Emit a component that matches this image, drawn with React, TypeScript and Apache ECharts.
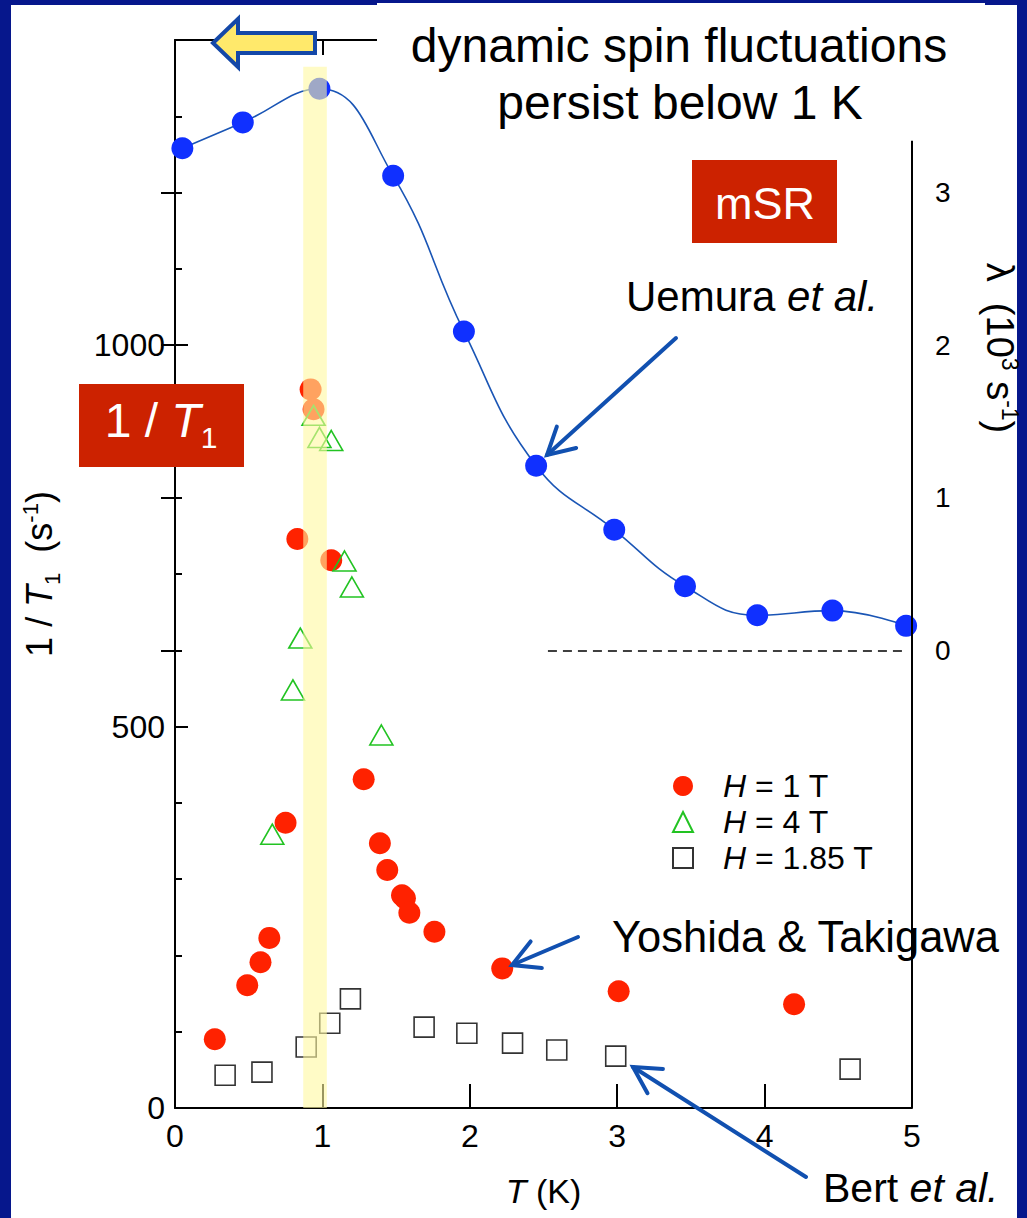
import React, { useEffect, useRef } from 'react';
import * as echarts from 'echarts';

const FONT = '"Liberation Sans", Arial, Helvetica, sans-serif';

// ---- data ----
const X_TICKS = [0, 1, 2, 3, 4, 5];
const LEFT_LABELS = [0, 500, 1000];
const RIGHT_LABELS = [0, 1, 2, 3];

// H = 1 T (1/T1, s^-1)
const RED_T = [0.27, 0.49, 0.58, 0.64, 0.75, 0.83, 0.92, 0.94, 1.06, 1.28, 1.39, 1.44, 1.54, 1.56, 1.59, 1.76, 2.22, 3.01, 4.2];
const RED_V = [90, 161, 191, 223, 374, 746, 942, 916, 718, 431, 347, 312, 279, 275, 256, 231, 183, 153, 136];

// H = 4 T
const GREEN_T = [0.66, 0.8, 0.85, 0.94, 0.98, 1.06, 1.15, 1.2, 1.4];
const GREEN_V = [359, 548, 616, 908, 879, 875, 717, 683, 489];

// H = 1.85 T
const SQ_T = [0.34, 0.59, 0.89, 1.05, 1.19, 1.69, 1.98, 2.29, 2.59, 2.99, 4.58];
const SQ_V = [43, 47, 80, 111, 143, 106, 98, 85, 76, 68, 51];

// muSR lambda (10^3 s^-1)
const MU_T = [0.05, 0.46, 0.98, 1.48, 1.96, 2.45, 2.98, 3.46, 3.95, 4.46, 4.96];
const MU_L = [3.29, 3.46, 3.68, 3.11, 2.09, 1.21, 0.79, 0.42, 0.23, 0.26, 0.16];

const ZERO_LINE_T = [2.53, 4.95];
const RIGHT_AXIS_TOP = 3.34;
const BAND = [0.87, 1.03, 1365];

const zip = (a: number[], b: number[]) => a.map((v, i) => [v, b[i]]);

function arrow(x1: number, y1: number, x2: number, y2: number, color: string, w: number) {
  const a = Math.atan2(y2 - y1, x2 - x1);
  const L = 30;
  const th = 0.5;
  const p1 = [x2 - L * Math.cos(a - th), y2 - L * Math.sin(a - th)];
  const p2 = [x2 - L * Math.cos(a + th), y2 - L * Math.sin(a + th)];
  return [
    { type: 'line', z: 100, shape: { x1, y1, x2, y2 }, style: { stroke: color, lineWidth: w, lineCap: 'round' } },
    { type: 'polyline', z: 100, shape: { points: [p1, [x2, y2], p2] }, style: { stroke: color, lineWidth: w, fill: null, lineCap: 'round', lineJoin: 'miter' } },
  ];
}

const BLUE_ARROW = '#1150b0';

export default function App() {
  const ref = useRef<HTMLDivElement>(null);
  useEffect(() => {
    document.body.style.margin = '0';
    const chart = echarts.init(ref.current!, null, { renderer: 'svg' });
    const richBase = (size: number) => ({
      n: { fontSize: size, fontFamily: FONT, color: '#000', verticalAlign: 'bottom', lineHeight: size, padding: [0, 0, 6, 0] },
      i: { fontSize: size, fontFamily: FONT, color: '#000', fontStyle: 'italic', verticalAlign: 'bottom', lineHeight: size, padding: [0, 0, 6, 0] },
      sub: { fontSize: Math.round(size * 0.62), fontFamily: FONT, color: '#000', verticalAlign: 'bottom', lineHeight: Math.round(size * 0.62) },
      sup: { fontSize: Math.round(size * 0.62), fontFamily: FONT, color: '#000', verticalAlign: 'bottom', lineHeight: Math.round(size * 0.62), padding: [0, 0, Math.round(size * 0.6), 0] },
    });

    const option: any = {
      animation: false,
      backgroundColor: 'transparent',
      textStyle: { fontFamily: FONT, color: '#000' },
      grid: { left: 175, right: 115, top: 40, bottom: 110, containLabel: false },
      legend: {
        data: ['H = 1 T', 'H = 4 T', 'H = 1.85 T'],
        orient: 'vertical',
        left: 672,
        top: 770,
        itemWidth: 20,
        itemHeight: 20,
        itemGap: 4,
        padding: 0,
        selectedMode: false,
        formatter: (name: string) => `{s|}{i|H}{n|${name.slice(1)}}`,
        textStyle: {
          rich: {
            s: { width: 25 },
            i: { fontSize: 32, fontStyle: 'italic', fontFamily: FONT, color: '#000', lineHeight: 32 },
            n: { fontSize: 32, fontFamily: FONT, color: '#000', lineHeight: 32 },
          },
        },
      },
      xAxis: [
        {
          type: 'value', position: 'bottom', min: 0, max: 5, interval: 1,
          axisLine: { show: true, onZero: false, lineStyle: { color: '#000', width: 2 } },
          axisTick: { show: true, inside: true, length: 24, lineStyle: { color: '#000', width: 2 } },
          axisLabel: { fontSize: 32, color: '#000', margin: 12, fontFamily: FONT, formatter: (v: number) => String(v) },
          splitLine: { show: false },
          name: '{i|T} (K)',
          nameLocation: 'middle',
          nameGap: 66,
          nameTextStyle: {
            fontSize: 34, color: '#000', fontFamily: FONT,
            rich: { i: { fontSize: 34, fontStyle: 'italic', fontFamily: FONT, color: '#000' } },
          },
        },
        {
          type: 'value', position: 'top', min: 0, max: 5, interval: 1,
          axisLine: { show: true, onZero: false, lineStyle: { color: '#000', width: 2 } },
          axisTick: { show: true, inside: true, length: 15, lineStyle: { color: '#000', width: 2 } },
          axisLabel: { show: false },
          splitLine: { show: false },
        },
      ],
      yAxis: [
        {
          type: 'value', position: 'left', min: 0, max: 1400,
          axisLine: { show: true, onZero: false, lineStyle: { color: '#000', width: 2 } },
          axisTick: { show: true, inside: true, length: 13, customValues: LEFT_LABELS, lineStyle: { color: '#000', width: 2 } },
          axisLabel: { customValues: LEFT_LABELS, fontSize: 32, color: '#000', margin: 10, fontFamily: FONT, formatter: (v: number) => String(v) },
          splitLine: { show: false },
          name: '{n|1 / }{i|T}{sub|1}{n|  (s}{sup|-1}{n|)}',
          nameLocation: 'middle',
          nameRotate: 90,
          nameGap: 112,
          nameTextStyle: { fontSize: 36, color: '#000', fontFamily: FONT, rich: richBase(36) },
        },
        {
          type: 'value', position: 'right', min: -3, max: 4,
          axisLine: { show: false },
          axisTick: { show: true, inside: true, length: 14, customValues: RIGHT_LABELS, lineStyle: { color: '#000', width: 2 } },
          axisLabel: { customValues: RIGHT_LABELS, fontSize: 28, color: '#000', margin: 23, fontFamily: FONT, formatter: (v: number) => String(v) },
          splitLine: { show: false },
        },
        {
          type: 'value', position: 'left', min: 0, max: 1400, interval: 100,
          axisLine: { show: false },
          axisTick: { show: true, inside: true, length: 7, lineStyle: { color: '#000', width: 2 } },
          axisLabel: { show: false },
          splitLine: { show: false },
        },
      ],
      series: [
        {
          name: 'H = 1 T', type: 'scatter', xAxisIndex: 0, yAxisIndex: 0,
          data: zip(RED_T, RED_V), symbol: 'circle', symbolSize: 22,
          itemStyle: { color: '#ff2200', opacity: 1 }, z: 3,
        },
        {
          name: 'H = 4 T', type: 'scatter', xAxisIndex: 0, yAxisIndex: 0,
          data: zip(GREEN_T, GREEN_V), symbol: 'triangle', symbolSize: [23, 20],
          itemStyle: { color: 'rgba(255,255,255,0)', borderColor: '#22c322', borderWidth: 1.6, opacity: 1 }, z: 3,
        },
        {
          name: 'H = 1.85 T', type: 'scatter', xAxisIndex: 0, yAxisIndex: 0,
          data: zip(SQ_T, SQ_V), symbol: 'rect', symbolSize: 20,
          itemStyle: { color: 'rgba(255,255,255,0)', borderColor: '#333', borderWidth: 1.6, opacity: 1 }, z: 3,
        },
        {
          name: 'muSR', type: 'line', xAxisIndex: 0, yAxisIndex: 1,
          data: zip(MU_T, MU_L), smooth: 0.45, symbol: 'circle', symbolSize: 22, showAllSymbol: true,
          itemStyle: { color: '#1030ff' },
          lineStyle: { color: '#1a55b5', width: 1.6 },
          z: 4,
          markLine: {
            silent: true, symbol: ['none', 'none'], label: { show: false },
            data: [
              [
                { coord: [ZERO_LINE_T[0], 0], lineStyle: { color: '#000', width: 1.6, type: [9, 6] } },
                { coord: [ZERO_LINE_T[1], 0] },
              ],
              [
                { coord: [5, -3], lineStyle: { color: '#000', width: 2, type: 'solid' } },
                { coord: [5, RIGHT_AXIS_TOP] },
              ],
            ],
          },
        },
        {
          name: 'band', type: 'custom', xAxisIndex: 0, yAxisIndex: 0, z: 10, silent: true,
          data: [BAND],
          renderItem: (params: any, api: any) => {
            const p1 = api.coord([api.value(0), api.value(2)]);
            const p2 = api.coord([api.value(1), 0]);
            return {
              type: 'rect',
              shape: { x: p1[0], y: p1[1], width: p2[0] - p1[0], height: p2[1] - p1[1] },
              style: { fill: 'rgba(255,249,160,0.6)' },
            };
          },
        },
      ],
      graphic: [
        // white title box
        { type: 'rect', z: 90, shape: { x: 377, y: 3, width: 608, height: 128 }, style: { fill: '#fff' } },
        { type: 'text', z: 100, x: 679, y: 45, style: { text: 'dynamic spin fluctuations', fontSize: 48, fontFamily: FONT, fill: '#000', align: 'center', verticalAlign: 'middle' } },
        { type: 'text', z: 100, x: 680, y: 102, style: { text: 'persist below 1 K', fontSize: 48, fontFamily: FONT, fill: '#000', align: 'center', verticalAlign: 'middle' } },
        // yellow arrow
        {
          type: 'polygon', z: 100,
          shape: { points: [[213, 43], [238, 19], [238, 33], [315, 33], [315, 53], [238, 53], [238, 67]] },
          style: { fill: '#ffe96b', stroke: '#1448a8', lineWidth: 4, lineJoin: 'miter' },
        },
        // muSR box
        { type: 'rect', z: 100, shape: { x: 692, y: 160, width: 145, height: 83 }, style: { fill: '#cc2200' } },
        { type: 'text', z: 101, x: 765, y: 203, style: { text: 'mSR', fontSize: 45, fontFamily: FONT, fill: '#fff', align: 'center', verticalAlign: 'middle' } },
        // 1/T1 box
        { type: 'rect', z: 100, shape: { x: 79, y: 384, width: 165, height: 83 }, style: { fill: '#cc2200' } },
        {
          type: 'text', z: 101, x: 161, y: 428,
          style: {
            text: '{n|1 / }{i|T}{s|1}', align: 'center', verticalAlign: 'middle',
            rich: {
              n: { fontSize: 48, fontFamily: FONT, fill: '#fff', verticalAlign: 'bottom', lineHeight: 48, padding: [0, 0, 8, 0] },
              i: { fontSize: 48, fontFamily: FONT, fill: '#fff', fontStyle: 'italic', verticalAlign: 'bottom', lineHeight: 48, padding: [0, 0, 8, 0] },
              s: { fontSize: 30, fontFamily: FONT, fill: '#fff', verticalAlign: 'bottom', lineHeight: 30 },
            },
          },
        },
        // annotations
        {
          type: 'text', z: 100, x: 626, y: 296,
          style: {
            text: '{n|Uemura }{i|et al.}', align: 'left', verticalAlign: 'middle',
            rich: {
              n: { fontSize: 42, fontFamily: FONT, fill: '#000' },
              i: { fontSize: 42, fontFamily: FONT, fill: '#000', fontStyle: 'italic' },
            },
          },
        },
        { type: 'text', z: 1, x: 612, y: 937, style: { text: 'Yoshida & Takigawa', fontSize: 43.5, fontFamily: FONT, fill: '#000', align: 'left', verticalAlign: 'middle' } },
        {
          type: 'text', z: 100, x: 823, y: 1188,
          style: {
            text: '{n|Bert }{i|et al.}', align: 'left', verticalAlign: 'middle',
            rich: {
              n: { fontSize: 41, fontFamily: FONT, fill: '#000' },
              i: { fontSize: 41, fontFamily: FONT, fill: '#000', fontStyle: 'italic' },
            },
          },
        },
        ...arrow(676, 338, 547, 455, BLUE_ARROW, 4),
        ...arrow(578, 937, 512, 965, BLUE_ARROW, 4),
        ...arrow(806, 1177, 633, 1067, BLUE_ARROW, 4),
        // right axis title
        {
          type: 'text', z: 100, x: 994, y: 348, rotation: -Math.PI / 2,
          style: {
            text: '{n|λ  (10}{sup|3}{n| s}{sup|-1}{n|)}', align: 'center', verticalAlign: 'middle',
            rich: {
              n: { fontSize: 38, fontFamily: FONT, fill: '#000', verticalAlign: 'bottom', lineHeight: 38, padding: [0, 0, 6, 0] },
              sup: { fontSize: 23, fontFamily: FONT, fill: '#000', verticalAlign: 'bottom', lineHeight: 23, padding: [0, 0, 23, 0] },
            },
          },
        },
      ],
    };
    chart.setOption(option);
    return () => chart.dispose();
  }, []);
  return (
    <div style={{ position: 'relative', width: 1027, height: 1218, background: '#06178c', overflow: 'hidden' }}>
      <div style={{ position: 'absolute', left: 11, top: 5, width: 1006, height: 1213, background: '#fff' }} />
      <div ref={ref} style={{ position: 'absolute', left: 0, top: 0, width: 1027, height: 1218 }} />
    </div>
  );
}
